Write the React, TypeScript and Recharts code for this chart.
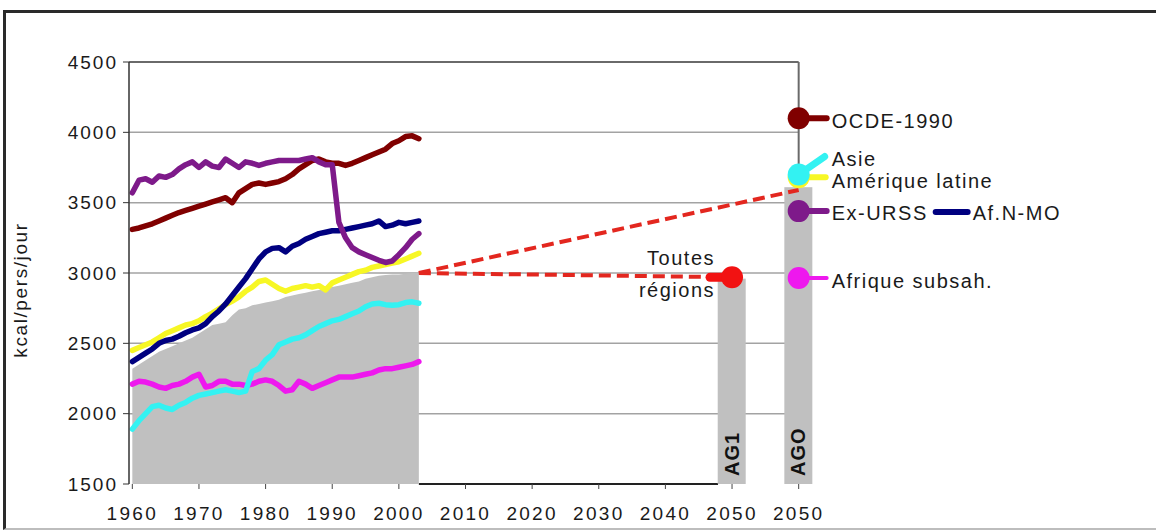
import React from 'react';
import {
  ComposedChart,
  Area,
  Line,
  Bar,
  Scatter,
  XAxis,
  YAxis,
  ReferenceLine,
} from 'recharts';

// observed years 1960-2003
const years = [
  1960, 1961, 1962, 1963, 1964, 1965, 1966, 1967, 1968, 1969,
  1970, 1971, 1972, 1973, 1974, 1975, 1976, 1977, 1978, 1979,
  1980, 1981, 1982, 1983, 1984, 1985, 1986, 1987, 1988, 1989,
  1990, 1991, 1992, 1993, 1994, 1995, 1996, 1997, 1998, 1999,
  2000, 2001, 2002, 2003,
];

// kcal/pers/jour
const toutesRegions = [
  2320, 2350, 2380, 2410, 2440, 2460, 2480, 2500, 2520, 2540,
  2570, 2600, 2630, 2640, 2650, 2700, 2740, 2750, 2770, 2780,
  2790, 2800, 2810, 2830, 2840, 2850, 2860, 2870, 2880, 2890,
  2900, 2910, 2920, 2930, 2940, 2960, 2970, 2980, 2985, 2990,
  2990, 2995, 3000, 3000,
];
const ocde = [
  3310, 3320, 3335, 3350, 3370, 3390, 3410, 3430, 3445, 3460,
  3475, 3490, 3505, 3520, 3535, 3500, 3570, 3600, 3630, 3640,
  3630, 3640, 3650, 3670, 3700, 3740, 3770, 3800, 3810, 3790,
  3780, 3780, 3765, 3780, 3800, 3820, 3840, 3860, 3880, 3920,
  3940, 3970, 3975, 3955,
];
const exUrss = [
  3570, 3660, 3670, 3645, 3690, 3680, 3700, 3740, 3770, 3790,
  3750, 3790, 3760, 3750, 3810, 3780, 3750, 3790, 3780, 3765,
  3780, 3790, 3800, 3800, 3800, 3800, 3810, 3820, 3790, 3770,
  3770, 3360, 3250, 3180, 3150, 3130, 3110, 3090, 3075, 3085,
  3130, 3180, 3240, 3280,
];
const afNMo = [
  2370, 2400, 2430, 2460, 2500, 2520, 2530, 2550, 2575, 2595,
  2610, 2640, 2690, 2730, 2780, 2840, 2900, 2960, 3030, 3100,
  3150, 3175, 3180, 3150, 3190, 3210, 3240, 3260, 3280, 3290,
  3300, 3300, 3310, 3320, 3330, 3340, 3350, 3370, 3330, 3340,
  3360, 3350, 3360, 3370,
];
const ameriqueLatine = [
  2450, 2470, 2490, 2510, 2540, 2570, 2590, 2610, 2630, 2640,
  2660, 2690, 2715, 2745, 2775, 2800, 2830, 2870, 2900, 2940,
  2950, 2920, 2890, 2870, 2890, 2900, 2910, 2900, 2910, 2880,
  2930, 2950, 2970, 2990, 3010, 3020, 3040, 3050, 3060, 3070,
  3080, 3100, 3120, 3140,
];
const asie = [
  1890, 1950, 2000, 2050, 2060, 2040, 2030, 2060, 2080, 2110,
  2130, 2140, 2150, 2160, 2170, 2160, 2150, 2160, 2300, 2320,
  2380, 2420, 2490, 2510, 2530, 2540, 2560, 2590, 2620, 2640,
  2660, 2670, 2690, 2710, 2730, 2760, 2780, 2785, 2775, 2770,
  2775, 2790, 2795, 2785,
];
const afriqueSubsah = [
  2210, 2230, 2225, 2210, 2190, 2180, 2200, 2210, 2230, 2260,
  2280, 2190, 2200, 2230, 2230, 2210, 2210, 2200, 2210, 2230,
  2240, 2230, 2200, 2160, 2170, 2230, 2210, 2180, 2200, 2220,
  2240, 2260, 2260, 2260, 2270, 2280, 2290, 2310, 2320, 2320,
  2330, 2340, 2350, 2370,
];

// 2050 scenarios
const scenarioSlots = [2050, 2060]; // AG1, AGO
const scenarioNames = ['AG1', 'AGO'];
const scenarioValues = [2960, 3610];
const ag1World = 2970;
const agoTrendEnd = 3590;

// AGO regional values
const agoNames = ['Amérique latine', 'Asie', 'OCDE-1990', 'Af.N-MO', 'Ex-URSS', 'Afrique subsah.'];
const agoValues = [3680, 3700, 4100, 3440, 3440, 2965];

const xTickValues = [1960, 1970, 1980, 1990, 2000, 2010, 2020, 2030, 2040, 2050, 2060];
const xTickLabels = ['1960', '1970', '1980', '1990', '2000', '2010', '2020', '2030', '2040', '2050', '2050'];
const yTicks = [1500, 2000, 2500, 3000, 3500, 4000, 4500];

const lastYear = years[years.length - 1];
const lastWorld = toutesRegions[toutesRegions.length - 1];

const rows: any[] = years.map((year, i) => ({
  year,
  world: toutesRegions[i],
  ocde: ocde[i],
  exUrss: exUrss[i],
  afNMo: afNMo[i],
  ameriqueLatine: ameriqueLatine[i],
  asie: asie[i],
  afriqueSubsah: afriqueSubsah[i],
  dashAg1: year === lastYear ? lastWorld : undefined,
  dashAgo: year === lastYear ? lastWorld : undefined,
}));
rows.push({ year: scenarioSlots[0], scenario: scenarioValues[0], name: scenarioNames[0], dashAg1: ag1World });
rows.push({ year: scenarioSlots[1], scenario: scenarioValues[1], name: scenarioNames[1], dashAgo: agoTrendEnd });

const FONT = '"Liberation Sans", Arial, Helvetica, sans-serif';
const GRID = '#A3A3A3';
const BORDER = '#6A6A6A';
const GREY = '#C0C0C0';
const RED = '#E3271F';

const COLORS: Record<string, string> = {
  ocde: '#800000',
  exUrss: '#7E1A8A',
  afNMo: '#000080',
  ameriqueLatine: '#F7F725',
  asie: '#33F2F2',
  afriqueSubsah: '#EE18EE',
};

type MarkerStyle = {
  color: string;
  lead: [number, number, number, number];
  leadWidth: number;
  text: [number, number];
  anchor: 'start' | 'end';
  dot: boolean;
  lineGap?: number;
};

const markerStyles: Record<string, MarkerStyle> = {
  'OCDE-1990': { color: COLORS.ocde, lead: [0, 0, 28, 0], leadWidth: 6, text: [33, 3], anchor: 'start', dot: true },
  Asie: { color: COLORS.asie, lead: [0, 0, 26, -18], leadWidth: 7, text: [33, -16], anchor: 'start', dot: true },
  'Amérique latine': { color: COLORS.ameriqueLatine, lead: [0, 0, 27, 0], leadWidth: 6, text: [33, 4], anchor: 'start', dot: true },
  'Ex-URSS': { color: COLORS.exUrss, lead: [0, 0, 28, 0], leadWidth: 6, text: [33, 2], anchor: 'start', dot: true },
  'Af.N-MO': { color: COLORS.afNMo, lead: [137, 1, 169, 1], leadWidth: 6, text: [174, 2], anchor: 'start', dot: false },
  'Afrique subsah.': { color: COLORS.afriqueSubsah, lead: [0, 0, 28, 0], leadWidth: 4, text: [33, 3], anchor: 'start', dot: true },
  'Toutes régions': { color: '#F21212', lead: [-22, 0, 0, 0], leadWidth: 9, text: [-17, -19], anchor: 'end', dot: true, lineGap: 32 },
};

function makeMarker(name: string) {
  const s = markerStyles[name];
  const lines = s.lineGap ? name.split(' ') : [name];
  return (props: any) => {
    const { cx, cy } = props;
    if (cx == null || cy == null) return null;
    return (
      <g>
        <line
          x1={cx + s.lead[0]}
          y1={cy + s.lead[1]}
          x2={cx + s.lead[2]}
          y2={cy + s.lead[3]}
          stroke={s.color}
          strokeWidth={s.leadWidth}
          strokeLinecap="round"
        />
        {s.dot && <circle cx={cx} cy={cy} r={11} fill={s.color} />}
        {lines.map((t, i) => (
          <text
            key={t}
            x={cx + s.text[0]}
            y={cy + s.text[1] + i * (s.lineGap || 0)}
            textAnchor={s.anchor}
            dominantBaseline="central"
            fontFamily={FONT}
            fontSize={20}
            letterSpacing={1.5}
            fill="#1a1a1a"
          >
            {t}
          </text>
        ))}
      </g>
    );
  };
}

function ScenarioBar(props: any) {
  const { x, y, width, height, payload } = props;
  if (height == null || !(height > 0)) return null;
  const cx = x + width / 2;
  return (
    <g>
      <rect x={cx - 14} y={y} width={28} height={height} fill={GREY} />
      <text
        transform={`translate(${cx + 7}, ${y + height - 8}) rotate(-90)`}
        fontFamily={FONT}
        fontSize={20}
        fontWeight="bold"
        letterSpacing={1}
        fill="#111"
      >
        {payload?.name}
      </text>
    </g>
  );
}

export default function App() {
  const gridValues = yTicks.filter((v) => v !== yTicks[0] && v !== yTicks[yTicks.length - 1]);
  const xMin = 1959.5;
  const xMax = 2062;
  const yMin = yTicks[0];
  const yMax = yTicks[yTicks.length - 1];

  return (
    <div style={{ position: 'absolute', left: 0, top: 0, width: 1156, height: 531, overflow: 'hidden', background: '#fff' }}>
      <div
        style={{
          position: 'absolute',
          left: 3,
          top: 10,
          width: 1200,
          height: 515,
          border: '3px solid #2a2a2a',
          borderBottomColor: '#bdbdbd',
          borderBottomWidth: 2,
        }}
      />
      <div
        style={{
          position: 'absolute',
          left: 21,
          top: 290,
          transform: 'translate(-50%, -50%) rotate(-90deg)',
          fontFamily: FONT,
          fontSize: 19,
          letterSpacing: 1.6,
          color: '#1a1a1a',
          whiteSpace: 'nowrap',
        }}
      >
        kcal/pers/jour
      </div>
      <div style={{ position: 'absolute', left: 0, top: 0 }}>
        <ComposedChart
          width={1156}
          height={531}
          data={rows}
          margin={{ top: 62, right: 344, bottom: 7, left: 49 }}
        >
          {gridValues.map((v) => (
            <ReferenceLine
              key={v}
              segment={[{ x: xMin, y: v }, { x: scenarioSlots[1], y: v }]}
              stroke={GRID}
              strokeWidth={1.5}
              zIndex={-100}
            />
          ))}
          <ReferenceLine
            segment={[{ x: xMin, y: yMax }, { x: scenarioSlots[1], y: yMax }]}
            stroke={BORDER}
            strokeWidth={2}
            zIndex={-100}
          />
          <ReferenceLine
            segment={[{ x: scenarioSlots[1], y: scenarioValues[1] }, { x: scenarioSlots[1], y: yMax }]}
            stroke={BORDER}
            strokeWidth={2}
            zIndex={-100}
          />
          <ReferenceLine
            segment={[{ x: lastYear, y: yMin }, { x: 2047.9, y: yMin }]}
            stroke="#222"
            strokeWidth={2}
            zIndex={-100}
          />
          <XAxis
            dataKey="year"
            type="number"
            domain={[xMin, xMax]}
            ticks={xTickValues}
            tickFormatter={(v) => xTickLabels[xTickValues.indexOf(v)] ?? ''}
            axisLine={false}
            tickLine={{ stroke: '#444' }}
            tickSize={5}
            tickMargin={18}
            height={40}
            interval={0}
            tick={{ fill: '#1a1a1a', fontSize: 19, fontFamily: FONT, letterSpacing: 2.3 }}
          />
          <YAxis
            type="number"
            domain={[yMin, yMax]}
            ticks={yTicks}
            width={80}
            axisLine={{ stroke: '#333', strokeWidth: 1.5 }}
            tickLine={{ stroke: '#333' }}
            tickSize={6}
            tickMargin={5}
            interval={0}
            tick={{ fill: '#1a1a1a', fontSize: 19, fontFamily: FONT, letterSpacing: 2 }}
          />
          <Area
            dataKey="world"
            type="linear"
            stroke="none"
            fill={GREY}
            fillOpacity={1}
            baseValue={yMin}
            isAnimationActive={false}
          />
          <Bar dataKey="scenario" barSize={28} shape={<ScenarioBar />} isAnimationActive={false} />
          <Line dataKey="afriqueSubsah" stroke={COLORS.afriqueSubsah} strokeWidth={5.5} dot={false} strokeLinejoin="round" strokeLinecap="round" isAnimationActive={false} />
          <Line dataKey="asie" stroke={COLORS.asie} strokeWidth={5.5} dot={false} strokeLinejoin="round" strokeLinecap="round" isAnimationActive={false} />
          <Line dataKey="ameriqueLatine" stroke={COLORS.ameriqueLatine} strokeWidth={5.5} dot={false} strokeLinejoin="round" strokeLinecap="round" isAnimationActive={false} />
          <Line dataKey="afNMo" stroke={COLORS.afNMo} strokeWidth={5.5} dot={false} strokeLinejoin="round" strokeLinecap="round" isAnimationActive={false} />
          <Line dataKey="ocde" stroke={COLORS.ocde} strokeWidth={5.5} dot={false} strokeLinejoin="round" strokeLinecap="round" isAnimationActive={false} />
          <Line dataKey="exUrss" stroke={COLORS.exUrss} strokeWidth={5.5} dot={false} strokeLinejoin="round" strokeLinecap="round" isAnimationActive={false} />
          <Line dataKey="dashAg1" stroke={RED} strokeWidth={4} strokeDasharray="12 6" dot={false} connectNulls isAnimationActive={false} />
          <Line dataKey="dashAgo" stroke={RED} strokeWidth={4} strokeDasharray="12 6" dot={false} connectNulls isAnimationActive={false} />
          {agoNames.map((name, i) => (
            <Scatter
              key={name}
              data={[{ year: scenarioSlots[1], v: agoValues[i] }]}
              dataKey="v"
              shape={makeMarker(name)}
              isAnimationActive={false}
            />
          ))}
          <Scatter
            data={[{ year: scenarioSlots[0], v: ag1World }]}
            dataKey="v"
            shape={makeMarker('Toutes régions')}
            isAnimationActive={false}
          />
        </ComposedChart>
      </div>
    </div>
  );
}
